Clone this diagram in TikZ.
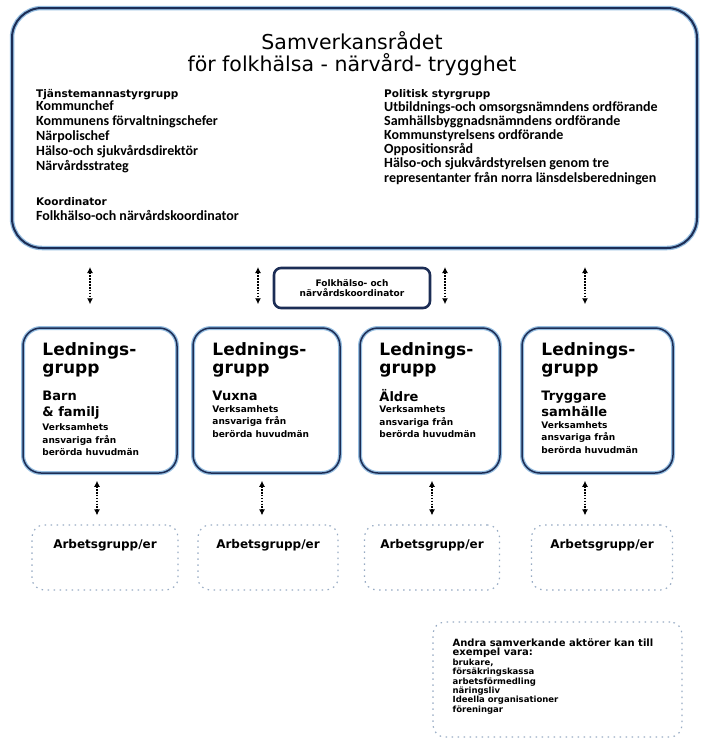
\documentclass[tikz,border=0pt]{standalone}
\usepackage{fontspec}
\setmainfont{DejaVu Sans}
\newfontfamily\itemfont{Carlito}
\usetikzlibrary{arrows.meta, positioning}

\definecolor{navy}{RGB}{28,45,85}
\definecolor{halo}{RGB}{150,190,225}
\definecolor{faint}{RGB}{150,170,195}

\begin{document}
\begin{tikzpicture}[x=1pt, y=-1pt]
    \tikzstyle{every node} = [inner sep=0pt]
    \tikzstyle{bigbox} = [draw=navy, line width=2pt, rounded corners=30pt, preaction={draw=halo, line width=4.5pt}]
    \tikzstyle{lgbox} = [draw=navy, line width=1.5pt, rounded corners=18pt, preaction={draw=halo, line width=4pt}, minimum height=145pt]
    \tikzstyle{kbox} = [draw=navy, line width=2.6pt, rounded corners=7pt, minimum width=156pt, minimum height=40pt, align=center, font=\bfseries\fontsize{9}{10}\selectfont]
    \tikzstyle{agbox} = [draw=faint, line width=1.2pt, dash pattern=on 1.5pt off 4.5pt, rounded corners=12pt]
    \tikzstyle{head} = [font=\bfseries\fontsize{10.5}{14}\selectfont, align=left]
    \tikzstyle{list} = [font=\itemfont\bfseries\fontsize{14}{15}\selectfont, align=left]
    \tikzstyle{lghead} = [font=\bfseries\fontsize{17}{18}\selectfont, align=left]
    \tikzstyle{lgname} = [font=\bfseries\fontsize{13}{16}\selectfont, align=left]
    \tikzstyle{lgdesc} = [font=\bfseries\fontsize{9}{12.5}\selectfont, align=left]
    \tikzstyle{agtext} = [font=\bfseries\fontsize{12}{14}\selectfont, anchor=base]
    \tikzstyle{link} = [{Latex[length=6pt,width=6pt]}-{Latex[length=6pt,width=6pt]}, line width=2pt, dash pattern=on 1.6pt off 1.3pt]

    \useasboundingbox (0,0) rectangle (701,744);

    \node[bigbox, minimum width=685pt, minimum height=240pt] (rad) at (354.5,128) {};
    \node[font=\fontsize{20.5}{22}\selectfont, align=center, anchor=north] (titel) at (352,31) {Samverkansrådet\\för folkhälsa - närvård- trygghet};

    \node[head, anchor=north west] (tjm) at (36,89) {Tjänstemannastyrgrupp};
    \node[list, below=0.5pt of tjm.south west, anchor=north west] (tjmlist) {Kommunchef\\Kommunens förvaltningschefer\\Närpolischef\\Hälso-och sjukvårdsdirektör\\Närvårdsstrateg};
    \node[head, below=24pt of tjmlist.south west, anchor=north west] (koo) {Koordinator};
    \node[list, below=5pt of koo.south west, anchor=north west] (koolist) {Folkhälso-och närvårdskoordinator};

    \node[head, anchor=north west] (pol) at (384,89) {Politisk styrgrupp};
    \node[list, font=\itemfont\bfseries\fontsize{14}{14.2}\selectfont, below=1.5pt of pol.south west, anchor=north west] (pollist) {Utbildnings-och omsorgsnämndens ordförande\\Samhällsbyggnadsnämndens ordförande\\Kommunstyrelsens ordförande\\Oppositionsråd\\Hälso-och sjukvårdstyrelsen genom tre\\representanter från norra länsdelsberedningen};

    \node[kbox] (koord) at (352,288) {Folkhälso- och\\närvårdskoordinator};

    \node[lgbox, minimum width=154pt] (lg1) at (100,400.5) {};
    \node[lgbox, minimum width=147pt] (lg2) at (266.5,400.5) {};
    \node[lgbox, minimum width=140pt] (lg3) at (430,400.5) {};
    \node[lgbox, minimum width=151pt] (lg4) at (597.5,400.5) {};

    \node[lghead, anchor=north west] (lg1h) at ([xshift=20pt,yshift=-15pt]lg1.north west) {Lednings-\\grupp};
    \node[lgname, below=14pt of lg1h.south west, anchor=north west] (lg1n) {Barn\\\& familj};
    \node[lgdesc, below=4pt of lg1n.south west, anchor=north west] (lg1d) {Verksamhets\\ansvariga från\\berörda huvudmän};
    \node[lghead, anchor=north west] (lg2h) at ([xshift=20pt,yshift=-15pt]lg2.north west) {Lednings-\\grupp};
    \node[lgname, below=14pt of lg2h.south west, anchor=north west] (lg2n) {Vuxna};
    \node[lgdesc, below=4pt of lg2n.south west, anchor=north west] (lg2d) {Verksamhets\\ansvariga från\\berörda huvudmän};
    \node[lghead, anchor=north west] (lg3h) at ([xshift=20pt,yshift=-15pt]lg3.north west) {Lednings-\\grupp};
    \node[lgname, below=12pt of lg3h.south west, anchor=north west] (lg3n) {Äldre};
    \node[lgdesc, below=4pt of lg3n.south west, anchor=north west] (lg3d) {Verksamhets\\ansvariga från\\berörda huvudmän};
    \node[lghead, anchor=north west] (lg4h) at ([xshift=20pt,yshift=-15pt]lg4.north west) {Lednings-\\grupp};
    \node[lgname, below=14pt of lg4h.south west, anchor=north west] (lg4n) {Tryggare\\samhälle};
    \node[lgdesc, below=4pt of lg4n.south west, anchor=north west] (lg4d) {Verksamhets\\ansvariga från\\berörda huvudmän};

    \node[agbox, minimum width=146pt, minimum height=65pt] (ag1) at (105,557.5) {};
    \node[agbox, minimum width=140pt, minimum height=65pt] (ag2) at (268,557.5) {};
    \node[agbox, minimum width=135pt, minimum height=65pt] (ag3) at (432,557.5) {};
    \node[agbox, minimum width=141pt, minimum height=65pt] (ag4) at (602,557.5) {};
    \node[agtext] (ag1t) at ([yshift=9.5pt]ag1.center) {Arbetsgrupp/er};
    \node[agtext] (ag2t) at ([yshift=9.5pt]ag2.center) {Arbetsgrupp/er};
    \node[agtext] (ag3t) at ([yshift=9.5pt]ag3.center) {Arbetsgrupp/er};
    \node[agtext] (ag4t) at ([yshift=9.5pt]ag4.center) {Arbetsgrupp/er};

    \node[agbox, minimum width=249pt, minimum height=115pt] (andra) at (557.5,679.5) {};
    \node[font=\bfseries\fontsize{10}{9.5}\selectfont, align=left, anchor=north west] (andra1) at ([xshift=20pt,yshift=-17pt]andra.north west) {Andra samverkande aktörer kan till\\exempel vara:};
    \node[font=\bfseries\fontsize{8.5}{9.4}\selectfont, align=left, below=0.5pt of andra1.south west, anchor=north west] (andra2) {brukare,\\försäkringskassa\\arbetsförmedling\\näringsliv\\Ideella organisationer\\föreningar};

    \draw[link, shorten <=18pt, shorten >=23pt] ([xshift=-10pt]lg1.north |- rad.south) -- ([xshift=-10pt]lg1.north);
    \draw[link, shorten <=18pt, shorten >=23pt] ([xshift=-8.5pt]lg2.north |- rad.south) -- ([xshift=-8.5pt]lg2.north);
    \draw[link, shorten <=18pt, shorten >=23pt] ([xshift=15pt]lg3.north |- rad.south) -- ([xshift=15pt]lg3.north);
    \draw[link, shorten <=18pt, shorten >=23pt] ([xshift=-12.5pt]lg4.north |- rad.south) -- ([xshift=-12.5pt]lg4.north);

    \draw[link, shorten <=7pt, shorten >=9pt] ([xshift=-3pt]lg1.south) -- ([xshift=-3pt]lg1.south |- ag1.north);
    \draw[link, shorten <=7pt, shorten >=9pt] ([xshift=-4.5pt]lg2.south) -- ([xshift=-4.5pt]lg2.south |- ag2.north);
    \draw[link, shorten <=7pt, shorten >=9pt] ([xshift=2pt]lg3.south) -- ([xshift=2pt]lg3.south |- ag3.north);
    \draw[link, shorten <=7pt, shorten >=9pt] ([xshift=-12.5pt]lg4.south) -- ([xshift=-12.5pt]lg4.south |- ag4.north);
\end{tikzpicture}
\end{document}
